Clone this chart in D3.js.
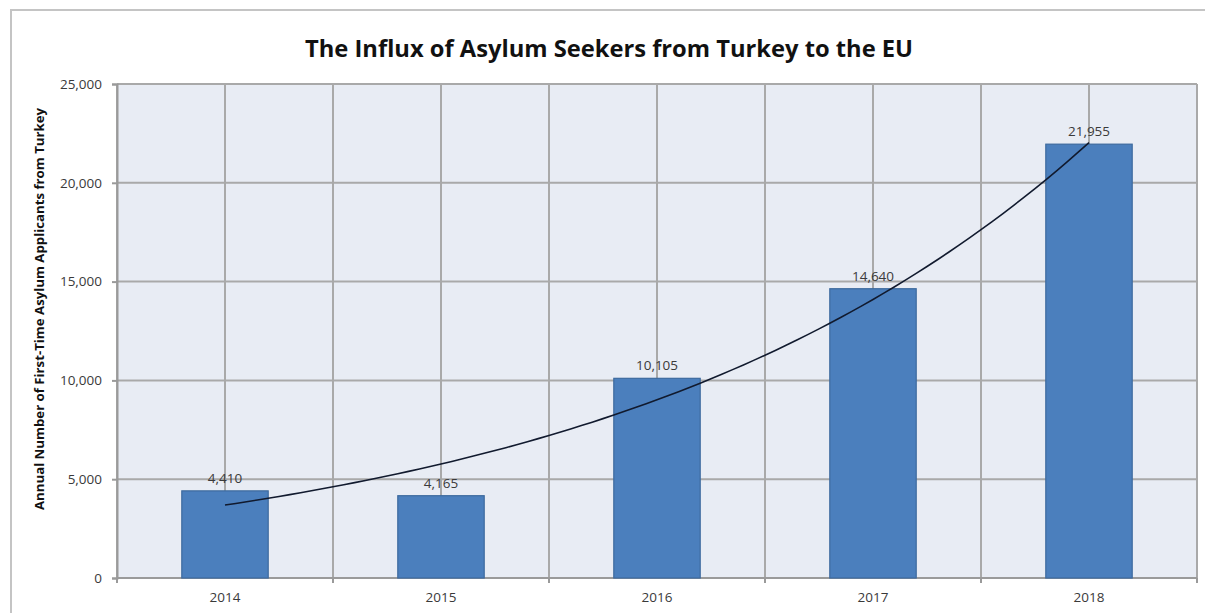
<!DOCTYPE html>
<html>
<head>
<meta charset="utf-8">
<script src="https://cdn.jsdelivr.net/npm/d3@7"></script>
<style>
  html, body { margin: 0; padding: 0; background: #fff; }
  svg { display: block; }
  text { font-family: "Open Sans", "DejaVu Sans", sans-serif; }
</style>
</head>
<body>
<svg id="chart" width="1205" height="613"></svg>
<script>
const years = ["2014", "2015", "2016", "2017", "2018"];
const applicants = [4410, 4165, 10105, 14640, 21955];
const yTicks = [0, 5000, 10000, 15000, 20000, 25000];
const titleText = "The Influx of Asylum Seekers from Turkey to the EU";
const yLabelText = "Annual Number of First-Time Asylum Applicants from Turkey";

const svg = d3.select("#chart");
const W = 1205, H = 613;
const plot = { left: 117, top: 84, right: 1197, bottom: 578 };

// outer chart border
svg.append("rect")
  .attr("x", 11).attr("y", 10)
  .attr("width", W + 20).attr("height", H + 20)
  .attr("fill", "#fff").attr("stroke", "#c4c4c4").attr("stroke-width", 2);

const x = d3.scaleBand().domain(years).range([plot.left, plot.right]).paddingInner(0).paddingOuter(0);
const y = d3.scaleLinear().domain([0, 25000]).range([plot.bottom, plot.top]);
const barW = x.bandwidth() * 0.4;

// plot background
svg.append("rect")
  .attr("x", plot.left).attr("y", plot.top)
  .attr("width", plot.right - plot.left).attr("height", plot.bottom - plot.top)
  .attr("fill", "#e8ecf4");

// vertical gridlines: at category boundaries and centers
const vLines = [];
years.forEach(yr => { vLines.push(x(yr)); vLines.push(x(yr) + x.bandwidth() / 2); });
vLines.push(plot.right);
svg.append("g").selectAll("line").data(vLines).join("line")
  .attr("x1", d => d).attr("x2", d => d)
  .attr("y1", plot.top).attr("y2", plot.bottom)
  .attr("stroke", "#a9a9a9").attr("stroke-width", 2);

// horizontal gridlines
svg.append("g").selectAll("line").data(yTicks).join("line")
  .attr("x1", plot.left).attr("x2", plot.right)
  .attr("y1", d => y(d)).attr("y2", d => y(d))
  .attr("stroke", "#a9a9a9").attr("stroke-width", 2);

// y axis
const yAxis = svg.append("g").attr("transform", `translate(${plot.left},0)`)
  .call(d3.axisLeft(y).tickValues(yTicks).tickFormat(d3.format(",")).tickSize(5).tickPadding(10));
yAxis.select(".domain").attr("stroke", "#9a9a9a").attr("stroke-width", 2);
yAxis.selectAll(".tick line").attr("stroke", "#9a9a9a").attr("stroke-width", 2);
yAxis.selectAll(".tick text").attr("font-size", 13.5).attr("fill", "#3a3a3a");

// x axis
const xAxis = svg.append("g").attr("transform", `translate(0,${plot.bottom})`)
  .call(d3.axisBottom(x).tickSize(0).tickPadding(14));
xAxis.select(".domain").remove();
xAxis.selectAll(".tick text").attr("font-size", 13.5).attr("fill", "#3a3a3a");
svg.append("line").attr("x1", plot.left).attr("x2", plot.right)
  .attr("y1", plot.bottom).attr("y2", plot.bottom)
  .attr("stroke", "#9a9a9a").attr("stroke-width", 2);
// x boundary ticks
const bounds = years.map(yr => x(yr)).concat([plot.right]);
svg.append("g").selectAll("line").data(bounds).join("line")
  .attr("x1", d => d).attr("x2", d => d)
  .attr("y1", plot.bottom).attr("y2", plot.bottom + 5)
  .attr("stroke", "#9a9a9a").attr("stroke-width", 2);

// bars
svg.append("g").selectAll("rect").data(applicants).join("rect")
  .attr("x", (d, i) => x(years[i]) + (x.bandwidth() - barW) / 2)
  .attr("y", d => y(d))
  .attr("width", barW)
  .attr("height", d => plot.bottom - y(d))
  .attr("fill", "#4b7fbd")
  .attr("stroke", "#3d6a9e").attr("stroke-width", 1.2);

// data labels
svg.append("g").selectAll("text").data(applicants).join("text")
  .attr("x", (d, i) => x(years[i]) + x.bandwidth() / 2)
  .attr("y", d => y(d) - 8)
  .attr("text-anchor", "middle")
  .attr("font-size", 13.5).attr("fill", "#3a3a3a")
  .text(d => d3.format(",")(d));

// exponential trendline (least squares on ln values, like a spreadsheet trendline)
const n = applicants.length;
const xs = d3.range(n);
const lns = applicants.map(Math.log);
const mx = d3.mean(xs), ml = d3.mean(lns);
const slope = d3.sum(xs, (v, i) => (v - mx) * (lns[i] - ml)) / d3.sum(xs, v => (v - mx) ** 2);
const icpt = ml - slope * mx;
const trendX = d3.scaleLinear().domain([0, n - 1])
  .range([x(years[0]) + x.bandwidth() / 2, x(years[n - 1]) + x.bandwidth() / 2]);
const trendPts = d3.range(0, n - 1 + 1e-9, 0.05).map(t => [trendX(t), y(Math.exp(icpt + slope * t))]);
svg.append("path")
  .attr("d", d3.line().curve(d3.curveLinear)(trendPts))
  .attr("fill", "none").attr("stroke", "#111a2e").attr("stroke-width", 1.6);

// title
svg.append("text")
  .attr("x", 609).attr("y", 57)
  .attr("text-anchor", "middle")
  .attr("font-size", 24).attr("font-weight", "bold").attr("fill", "#111")
  .attr("textLength", 608).attr("lengthAdjust", "spacingAndGlyphs")
  .text(titleText);

// y label
svg.append("text")
  .attr("transform", "translate(44,309) rotate(-90)")
  .attr("text-anchor", "middle")
  .attr("font-size", 12.5).attr("font-weight", "bold").attr("fill", "#111")
  .attr("textLength", 402).attr("lengthAdjust", "spacingAndGlyphs")
  .text(yLabelText);
</script>
</body>
</html>
